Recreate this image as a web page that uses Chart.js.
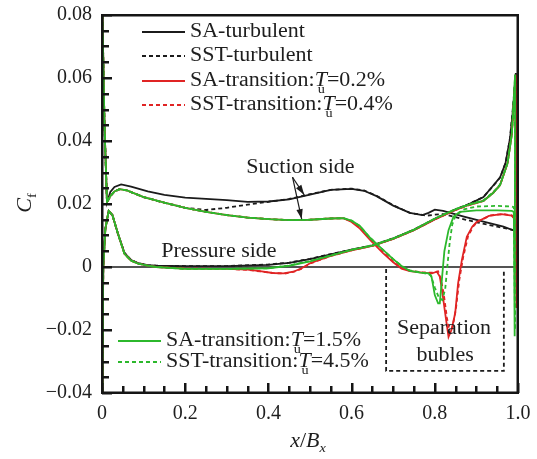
<!DOCTYPE html>
<html>
<head>
<meta charset="utf-8">
<script src="https://cdn.jsdelivr.net/npm/chart.js@4.4.1/dist/chart.umd.min.js"></script>
<style>
  html, body { margin: 0; padding: 0; background: #fff; }
</style>
</head>
<body>
<canvas id="chart" width="537" height="459"></canvas>
<script>
// Axis tick labels
const xTickLabels = ['0', '0.2', '0.4', '0.6', '0.8', '1.0'];
const yTickLabels = ['\u22120.04', '\u22120.02', '0', '0.02', '0.04', '0.06', '0.08'];

// Legend names
const modelNames = ['SA-turbulent', 'SST-turbulent', 'SA-transition:', 'SST-transition:', 'SA-transition:', 'SST-transition:'];
const tuValues = [null, null, '0.2%', '0.4%', '1.5%', '4.5%'];

// SA-turbulent (black solid)
const saTurbSucX = [0.001, 0.006, 0.012, 0.02, 0.03, 0.046, 0.07, 0.11, 0.15, 0.2, 0.25, 0.3, 0.35, 0.4, 0.45, 0.5, 0.55, 0.6, 0.63, 0.66, 0.7, 0.74, 0.77, 0.785, 0.8, 0.82, 0.87, 0.917, 0.965, 0.998];
const saTurbSucY = [0.08, 0.045, 0.0205, 0.0238, 0.0254, 0.0262, 0.0255, 0.024, 0.0229, 0.022, 0.0216, 0.0212, 0.0207, 0.0208, 0.0215, 0.023, 0.0245, 0.0248, 0.0242, 0.0225, 0.0195, 0.0172, 0.0165, 0.0172, 0.0182, 0.0178, 0.016, 0.0144, 0.0128, 0.0112];
const saTurbPreX = [0.001, 0.003, 0.008, 0.016, 0.025, 0.038, 0.054, 0.07, 0.087, 0.11, 0.13, 0.2, 0.3, 0.4, 0.45, 0.5, 0.55, 0.6, 0.65, 0.7, 0.75, 0.8, 0.85, 0.88, 0.917, 0.94, 0.957, 0.97, 0.981, 0.988, 0.994];
const saTurbPreY = [-0.04, 0.0, 0.012, 0.0178, 0.0165, 0.0107, 0.0045, 0.0022, 0.0012, 0.0006, 0.0004, 0.0003, 0.0003, 0.0007, 0.0013, 0.0025, 0.004, 0.0055, 0.0068, 0.009, 0.0118, 0.0152, 0.0182, 0.0198, 0.0222, 0.0258, 0.0285, 0.033, 0.041, 0.05, 0.061];

// SST-turbulent (black dashed)
const sstTurbSucX = [0.001, 0.006, 0.012, 0.02, 0.03, 0.042, 0.06, 0.1, 0.15, 0.2, 0.25, 0.3, 0.35, 0.4, 0.45, 0.5, 0.55, 0.6, 0.63, 0.66, 0.7, 0.74, 0.78, 0.8, 0.82, 0.85, 0.9, 0.95, 0.998];
const sstTurbSucY = [0.08, 0.045, 0.0205, 0.0225, 0.024, 0.0247, 0.0243, 0.0222, 0.0204, 0.0188, 0.0181, 0.0188, 0.0198, 0.0207, 0.0216, 0.0231, 0.0245, 0.0249, 0.0243, 0.0226, 0.0196, 0.0172, 0.0163, 0.0166, 0.0168, 0.0158, 0.0142, 0.0128, 0.0115];
const sstTurbPreX = [0.001, 0.003, 0.008, 0.016, 0.025, 0.038, 0.054, 0.07, 0.087, 0.11, 0.13, 0.2, 0.3, 0.4, 0.45, 0.5, 0.55, 0.6, 0.65, 0.7, 0.75, 0.8, 0.85, 0.88, 0.917, 0.94, 0.957, 0.97, 0.981, 0.988, 0.995];
const sstTurbPreY = [-0.04, 0.0, 0.012, 0.0178, 0.0165, 0.0107, 0.0045, 0.0022, 0.0012, 0.0006, 0.0004, 0.0003, 0.0003, 0.0008, 0.0014, 0.0026, 0.0041, 0.0055, 0.0069, 0.0091, 0.0119, 0.0153, 0.0183, 0.0199, 0.0222, 0.0257, 0.0284, 0.033, 0.041, 0.051, 0.062];

// SA-transition Tu=0.2% (red solid)
const saT02SucX = [0.001, 0.006, 0.012, 0.02, 0.03, 0.042, 0.06, 0.1, 0.15, 0.2, 0.25, 0.3, 0.35, 0.4, 0.45, 0.5, 0.55, 0.58, 0.6, 0.62, 0.645, 0.675, 0.7, 0.72, 0.74, 0.77, 0.793, 0.805, 0.812, 0.818, 0.825, 0.833, 0.84, 0.849, 0.856, 0.865, 0.877, 0.89, 0.9, 0.93, 0.96, 0.985, 0.993, 0.997];
const saT02SucY = [0.08, 0.045, 0.0205, 0.0225, 0.024, 0.0247, 0.0243, 0.0222, 0.0204, 0.0188, 0.0175, 0.0165, 0.0157, 0.0152, 0.0149, 0.015, 0.0154, 0.0155, 0.0143, 0.0122, 0.0085, 0.0045, 0.0015, -0.0005, -0.0013, -0.0018, -0.002, -0.0015, -0.003, -0.008, -0.0147, -0.0222, -0.02, -0.0147, -0.0052, 0.0022, 0.0096, 0.0128, 0.0142, 0.0162, 0.0168, 0.0163, 0.015, -0.013];
const saT02PreX = [0.001, 0.003, 0.008, 0.016, 0.025, 0.038, 0.054, 0.07, 0.087, 0.11, 0.13, 0.2, 0.3, 0.35, 0.38, 0.41, 0.436, 0.46, 0.48, 0.5, 0.55, 0.6, 0.65, 0.7, 0.75, 0.8, 0.85, 0.88, 0.917, 0.94, 0.957, 0.975, 0.985, 0.99, 0.995];
const saT02PreY = [-0.04, 0.0, 0.012, 0.0178, 0.0165, 0.0107, 0.0042, 0.002, 0.0011, 0.0004, 0.0, -0.0005, -0.0006, -0.0008, -0.0013, -0.0019, -0.002, -0.0015, -0.0004, 0.0012, 0.0035, 0.0053, 0.0067, 0.0089, 0.0117, 0.0151, 0.0181, 0.0196, 0.021, 0.0235, 0.026, 0.033, 0.042, 0.052, 0.061];

// SST-transition Tu=0.4% (red dashed)
const sstT04SucX = [0.001, 0.006, 0.012, 0.02, 0.03, 0.042, 0.06, 0.1, 0.15, 0.2, 0.25, 0.3, 0.35, 0.4, 0.45, 0.5, 0.55, 0.58, 0.6, 0.62, 0.645, 0.675, 0.7, 0.72, 0.74, 0.77, 0.795, 0.808, 0.815, 0.822, 0.829, 0.836, 0.843, 0.851, 0.859, 0.868, 0.88, 0.893, 0.905, 0.935, 0.965, 0.985, 0.993, 0.997];
const sstT04SucY = [0.08, 0.045, 0.0205, 0.0225, 0.024, 0.0247, 0.0243, 0.0222, 0.0204, 0.0188, 0.0175, 0.0165, 0.0157, 0.0152, 0.0149, 0.015, 0.0154, 0.0155, 0.0145, 0.0125, 0.0088, 0.0048, 0.0017, -0.0003, -0.0012, -0.0017, -0.0018, -0.0014, -0.004, -0.009, -0.016, -0.021, -0.019, -0.013, -0.004, 0.003, 0.0098, 0.013, 0.0146, 0.0164, 0.0168, 0.0164, 0.0152, -0.012];
const sstT04PreX = [0.001, 0.003, 0.008, 0.016, 0.025, 0.038, 0.054, 0.07, 0.087, 0.11, 0.13, 0.2, 0.3, 0.35, 0.38, 0.41, 0.438, 0.462, 0.482, 0.5, 0.55, 0.6, 0.65, 0.7, 0.75, 0.8, 0.85, 0.88, 0.917, 0.94, 0.957, 0.975, 0.985, 0.99, 0.995];
const sstT04PreY = [-0.04, 0.0, 0.012, 0.0178, 0.0165, 0.0107, 0.0042, 0.002, 0.0011, 0.0004, 0.0, -0.0005, -0.0006, -0.0009, -0.0014, -0.0019, -0.0021, -0.0015, -0.0004, 0.0011, 0.0035, 0.0053, 0.0067, 0.0089, 0.0117, 0.0151, 0.0181, 0.0196, 0.021, 0.0235, 0.026, 0.033, 0.042, 0.052, 0.061];

// SA-transition Tu=1.5% (green solid)
const saT15SucX = [0.001, 0.006, 0.012, 0.02, 0.03, 0.042, 0.06, 0.1, 0.15, 0.2, 0.25, 0.3, 0.35, 0.4, 0.45, 0.5, 0.55, 0.58, 0.6, 0.62, 0.645, 0.675, 0.7, 0.72, 0.74, 0.765, 0.785, 0.792, 0.8, 0.808, 0.812, 0.817, 0.823, 0.833, 0.845, 0.86, 0.9, 0.95, 0.985, 0.99, 0.992];
const saT15SucY = [0.08, 0.045, 0.0205, 0.0225, 0.024, 0.0247, 0.0243, 0.0222, 0.0204, 0.0188, 0.0175, 0.0165, 0.0157, 0.0152, 0.0149, 0.015, 0.0154, 0.0155, 0.0147, 0.013, 0.0092, 0.0055, 0.0025, 0.0003, -0.0012, -0.0018, -0.002, -0.003, -0.0089, -0.0115, -0.0115, -0.004, 0.005, 0.0117, 0.016, 0.0175, 0.018, 0.018, 0.0178, 0.0175, -0.022];
const saT15PreX = [0.001, 0.003, 0.008, 0.016, 0.025, 0.038, 0.054, 0.07, 0.087, 0.11, 0.13, 0.2, 0.3, 0.4, 0.45, 0.5, 0.55, 0.6, 0.65, 0.7, 0.75, 0.8, 0.85, 0.88, 0.917, 0.94, 0.957, 0.975, 0.985, 0.99, 0.993];
const saT15PreY = [-0.04, 0.0, 0.012, 0.0178, 0.0165, 0.0107, 0.0042, 0.002, 0.0011, 0.0004, 0.0, -0.0006, -0.0006, -0.0004, 0.0004, 0.0018, 0.0036, 0.0054, 0.0068, 0.009, 0.0118, 0.0153, 0.0183, 0.0197, 0.021, 0.0235, 0.026, 0.033, 0.042, 0.053, 0.061];

// SST-transition Tu=4.5% (green dashed)
const sstT45SucX = [0.001, 0.006, 0.012, 0.02, 0.03, 0.042, 0.06, 0.1, 0.15, 0.2, 0.25, 0.3, 0.35, 0.4, 0.45, 0.5, 0.55, 0.58, 0.6, 0.62, 0.645, 0.675, 0.7, 0.72, 0.74, 0.77, 0.79, 0.8, 0.81, 0.818, 0.825, 0.83, 0.836, 0.842, 0.85, 0.87, 0.9, 0.95, 0.985, 0.99, 0.993];
const sstT45SucY = [0.08, 0.045, 0.0205, 0.0225, 0.024, 0.0247, 0.0243, 0.0222, 0.0204, 0.0188, 0.0175, 0.0165, 0.0157, 0.0152, 0.0149, 0.015, 0.0154, 0.0155, 0.0147, 0.013, 0.0092, 0.0055, 0.0025, 0.0004, -0.0011, -0.0018, -0.0025, -0.0065, -0.0098, -0.0105, -0.007, 0.0, 0.008, 0.0135, 0.0163, 0.0183, 0.0192, 0.0194, 0.0192, 0.019, -0.02];
const sstT45PreX = [0.001, 0.003, 0.008, 0.016, 0.025, 0.038, 0.054, 0.07, 0.087, 0.11, 0.13, 0.2, 0.3, 0.4, 0.45, 0.5, 0.55, 0.6, 0.65, 0.7, 0.75, 0.8, 0.85, 0.88, 0.917, 0.94, 0.957, 0.975, 0.985, 0.99, 0.993];
const sstT45PreY = [-0.04, 0.0, 0.012, 0.0178, 0.0165, 0.0107, 0.0042, 0.002, 0.0011, 0.0004, 0.0, -0.0006, -0.0006, -0.0004, 0.0005, 0.0019, 0.0037, 0.0055, 0.0069, 0.0091, 0.0119, 0.0154, 0.0184, 0.0198, 0.0212, 0.0237, 0.0262, 0.033, 0.042, 0.053, 0.061];

// minor tick spacing on each axis
const xTickStep = 0.05;
const yTickStep = 0.005;

const SERIF = '"Liberation Serif", "Times New Roman", serif';
const SX = 1.1; // the original type is a little wide
const BLACK = '#1b1b1b', RED = '#e02424', GREEN = '#2cb82c';

// suction side leading edge -> trailing edge, then pressure side back to the leading edge
function loop(sx, sy, px, py) {
    const pts = sx.map((x, i) => ({ x: x, y: sy[i] }));
    for (let i = px.length - 1; i >= 0; i--) pts.push({ x: px[i], y: py[i] });
    return pts;
}

function makeSet(i, sx, sy, px, py, color, dashed, order) {
    return {
        label: modelNames[i] + (tuValues[i] ? 'Tu=' + tuValues[i] : ''),
        data: loop(sx, sy, px, py),
        showLine: true,
        pointRadius: 0,
        borderColor: color,
        borderWidth: 1.8,
        borderDash: dashed ? [4, 3] : [],
        fill: false,
        tension: 0,
        order: order
    };
}

const datasets = [
    makeSet(0, saTurbSucX, saTurbSucY, saTurbPreX, saTurbPreY, BLACK, false, 6),
    makeSet(1, sstTurbSucX, sstTurbSucY, sstTurbPreX, sstTurbPreY, BLACK, true, 5),
    makeSet(2, saT02SucX, saT02SucY, saT02PreX, saT02PreY, RED, false, 4),
    makeSet(3, sstT04SucX, sstT04SucY, sstT04PreX, sstT04PreY, RED, true, 3),
    makeSet(4, saT15SucX, saT15SucY, saT15PreX, saT15PreY, GREEN, false, 2),
    makeSet(5, sstT45SucX, sstT45SucY, sstT45PreX, sstT45PreY, GREEN, true, 1)
];

// rich text: parts {t, it, sub, under}
function richWidth(ctx, parts, size) {
    let w = 0;
    parts.forEach(p => {
        ctx.font = (p.it ? 'italic ' : '') + (p.sub ? Math.round(size * 0.65) : size) + 'px ' + SERIF;
        if (!p.under) w += ctx.measureText(p.t).width;
    });
    return w * SX;
}

function drawRich(ctx, parts, x, y, size, align) {
    const w = richWidth(ctx, parts, size);
    let cx = align === 'center' ? -w / 2 / SX : 0;
    ctx.save();
    ctx.translate(x, y);
    ctx.scale(SX, 1);
    ctx.fillStyle = '#1e1e1e';
    ctx.textBaseline = 'middle';
    ctx.textAlign = 'left';
    let prevW = 0;
    parts.forEach(p => {
        const fs = p.sub ? Math.round(size * 0.65) : size;
        ctx.font = (p.it ? 'italic ' : '') + fs + 'px ' + SERIF;
        const m = ctx.measureText(p.t).width;
        if (p.under) {
            ctx.fillText(p.t, cx - prevW * 0.75, size * 0.42);
        } else {
            ctx.fillText(p.t, cx, p.sub ? size * 0.35 : 0);
            cx += m;
            prevW = m;
        }
    });
    ctx.restore();
}

function legendParts(i) {
    if (!tuValues[i]) return [{ t: modelNames[i] }];
    return [{ t: modelNames[i] }, { t: 'T', it: true }, { t: 'u', sub: true, under: true }, { t: '=' + tuValues[i] }];
}

function seg(ctx, x1, y1, x2, y2) {
    ctx.beginPath();
    ctx.moveTo(x1, y1);
    ctx.lineTo(x2, y2);
    ctx.stroke();
}

function arrow(ctx, x1, y1, x2, y2) {
    seg(ctx, x1, y1, x2, y2);
    const a = Math.atan2(y2 - y1, x2 - x1);
    const L = 10, W = 3.2;
    ctx.beginPath();
    ctx.moveTo(x2, y2);
    ctx.lineTo(x2 - L * Math.cos(a) + W * Math.sin(a), y2 - L * Math.sin(a) - W * Math.cos(a));
    ctx.lineTo(x2 - L * Math.cos(a) - W * Math.sin(a), y2 - L * Math.sin(a) + W * Math.cos(a));
    ctx.closePath();
    ctx.fill();
}

// frame and inward tick marks on the left and bottom axes
function drawFrame(c) {
    const ctx = c.ctx, a = c.chartArea, xs = c.scales.x, ys = c.scales.y;
    ctx.save();
    ctx.fillStyle = '#151515';
    ctx.fillRect(a.left - 1, a.top - 1, a.right - a.left + 2, 2.5);
    ctx.fillRect(a.left - 1, a.bottom - 1.5, a.right - a.left + 2, 2.5);
    ctx.fillRect(a.left - 1, a.top - 1, 2.5, a.bottom - a.top + 2);
    ctx.fillRect(a.right - 1.5, a.top - 1, 2.5, a.bottom - a.top + 2);
    for (let i = 0; i <= 20; i++) {
        const px = Math.round(xs.getPixelForValue(i * xTickStep));
        const len = i % 4 === 0 ? 10 : 7;
        ctx.fillRect(px - 1, a.bottom - len, 2.5, len);
    }
    for (let j = 0; j <= 24; j++) {
        const py = Math.round(ys.getPixelForValue(-0.04 + j * yTickStep));
        const len = j % 4 === 0 ? 10 : 7;
        ctx.fillRect(a.left, py - 1, len, 2.5);
    }
    ctx.restore();
}

const decor = {
    id: 'decor',
    beforeDatasetsDraw(c) {
        const { ctx, scales: { x, y } } = c;
        ctx.save();
        ctx.strokeStyle = BLACK;
        ctx.lineWidth = 1.6;
        seg(ctx, x.getPixelForValue(0), y.getPixelForValue(0), x.getPixelForValue(1), y.getPixelForValue(0));
        ctx.restore();
    },
    afterDraw(c) {
        const ctx = c.ctx, x = c.scales.x, y = c.scales.y;
        drawFrame(c);

        ctx.save();
        // separation bubble box
        ctx.strokeStyle = BLACK;
        ctx.lineWidth = 1.8;
        ctx.setLineDash([4, 3]);
        const bx1 = x.getPixelForValue(0.683), bx2 = x.getPixelForValue(0.966);
        const by1 = y.getPixelForValue(0), by2 = y.getPixelForValue(-0.033);
        ctx.beginPath();
        ctx.moveTo(bx1, by1 + 2);
        ctx.lineTo(bx1, by2);
        ctx.lineTo(bx2, by2);
        ctx.lineTo(bx2, by1 + 2);
        ctx.stroke();
        ctx.setLineDash([]);

        // suction side arrows
        ctx.fillStyle = BLACK;
        ctx.lineWidth = 1.2;
        const sx0 = x.getPixelForValue(0.458), sy0 = y.getPixelForValue(0.0285);
        arrow(ctx, sx0, sy0, x.getPixelForValue(0.486), y.getPixelForValue(0.0229));
        arrow(ctx, sx0, sy0, x.getPixelForValue(0.480), y.getPixelForValue(0.0152));

        // annotations
        drawRich(ctx, [{ t: 'Suction side' }], x.getPixelForValue(0.477), y.getPixelForValue(0.0315), 20, 'center');
        drawRich(ctx, [{ t: 'Pressure side' }], x.getPixelForValue(0.281), y.getPixelForValue(0.0048), 20, 'center');
        drawRich(ctx, [{ t: 'Separation' }], x.getPixelForValue(0.822), y.getPixelForValue(-0.0197), 20, 'center');
        drawRich(ctx, [{ t: 'bubles' }], x.getPixelForValue(0.825), y.getPixelForValue(-0.0283), 20, 'center');

        // legends (top-left block of four, bottom-left block of two)
        const rows = [
            { i: 0, lx: 142, y: 32 }, { i: 1, lx: 142, y: 56 }, { i: 2, lx: 142, y: 81 }, { i: 3, lx: 142, y: 105 },
            { i: 4, lx: 118, y: 341 }, { i: 5, lx: 118, y: 362 }
        ];
        rows.forEach(r => {
            const ds = datasets[r.i];
            ctx.strokeStyle = ds.borderColor;
            ctx.lineWidth = 1.8;
            ctx.setLineDash(ds.borderDash);
            seg(ctx, r.lx, r.y, r.lx + 43, r.y);
            ctx.setLineDash([]);
            drawRich(ctx, legendParts(r.i), r.lx + 48, r.y, 20, 'left');
        });

        // axis titles
        ctx.save();
        ctx.translate(26, 203);
        ctx.rotate(-Math.PI / 2);
        drawRich(ctx, [{ t: 'C', it: true }, { t: 'f', sub: true }], 0, 0, 20, 'center');
        ctx.restore();
        drawRich(ctx, [{ t: 'x', it: true }, { t: '/' }, { t: 'B', it: true }, { t: 'x', it: true, sub: true }], 308, 442, 20, 'center');
        ctx.restore();
    }
};

new Chart(document.getElementById('chart').getContext('2d'), {
    type: 'scatter',
    data: { datasets: datasets },
    options: {
        responsive: false,
        animation: false,
        events: [],
        layout: { padding: { left: 0, right: 19, top: 15, bottom: 0 } },
        plugins: { legend: { display: false }, tooltip: { enabled: false } },
        scales: {
            x: {
                type: 'linear', min: 0, max: 1,
                grid: { display: false, drawTicks: false },
                border: { display: false },
                ticks: {
                    stepSize: 0.2, padding: 9, color: '#1e1e1e', maxRotation: 0, autoSkip: false,
                    font: { family: SERIF, size: 20 },
                    callback: (v, i) => xTickLabels[i]
                },
                afterFit: s => { s.height = 66; s.paddingLeft = 0; s.paddingRight = 0; }
            },
            y: {
                type: 'linear', min: -0.04, max: 0.08,
                grid: { display: false, drawTicks: false },
                border: { display: false },
                ticks: {
                    stepSize: 0.02, padding: 10, color: '#1e1e1e', autoSkip: false,
                    font: { family: SERIF, size: 20 },
                    callback: (v, i) => yTickLabels[i]
                },
                afterFit: s => { s.width = 102; s.paddingTop = 0; s.paddingBottom = 0; }
            }
        }
    },
    plugins: [decor]
});
</script>
</body>
</html>
